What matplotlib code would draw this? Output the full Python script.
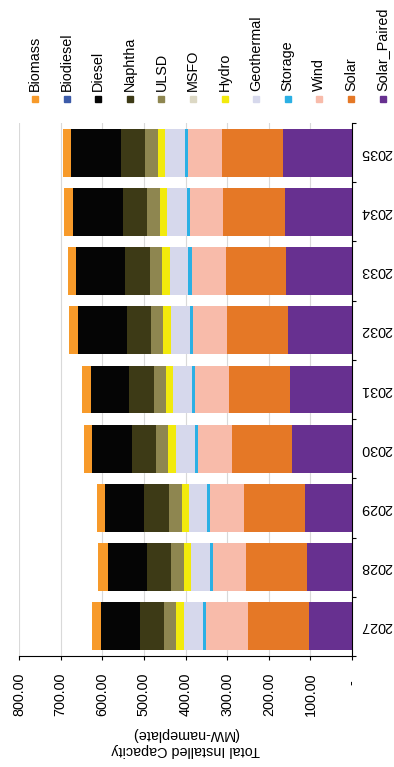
import numpy as np
import matplotlib
matplotlib.use("Agg")
import matplotlib.pyplot as plt
from matplotlib.patches import Rectangle

plt.rcParams['font.family'] = ['Liberation Sans', 'DejaVu Sans']

# data (MW-nameplate)
years = ['2027', '2028', '2029', '2030', '2031', '2032', '2033', '2034', '2035']
solar_paired = [104.3, 109.1, 112.4, 144.5, 150.1, 153.3, 158.1, 161.3, 166.1]
solar = [146.0, 144.5, 146.1, 143.7, 146.1, 147.7, 145.3, 147.7, 146.1]
wind = [101.0, 81.1, 81.9, 81.9, 81.1, 81.1, 81.9, 81.1, 82.7]
storage = [5.6, 7.2, 7.2, 6.4, 6.4, 7.2, 8.0, 6.4, 6.4]
geothermal = [46.5, 44.9, 44.1, 47.4, 45.7, 45.7, 44.9, 48.2, 47.4]
hydro = [18.5, 17.7, 17.7, 17.7, 16.9, 18.5, 17.7, 16.9, 17.7]
msfo = [0, 0, 0, 0, 0, 0, 0, 0, 0]
ulsd = [29.7, 29.7, 29.7, 28.9, 29.7, 28.9, 29.7, 29.7, 29.7]
naphtha = [57.8, 58.6, 59.4, 57.8, 58.6, 57.8, 58.6, 59.4, 57.8]
diesel = [94.7, 93.9, 93.9, 95.5, 93.1, 118.0, 118.0, 120.0, 120.0]
biodiesel = [0, 0, 0, 0, 0, 0, 0, 0, 0]
biomass = [20.9, 22.5, 20.9, 21.0, 21.0, 21.0, 21.0, 21.0, 21.0]

# stacking order (first one sits next to the axis)
series = [
    ('Solar_Paired', solar_paired, '#673090'),
    ('Solar', solar, '#E57826'),
    ('Wind', wind, '#F8BBAA'),
    ('Storage', storage, '#2BB0E4'),
    ('Geothermal', geothermal, '#D6D8EC'),
    ('Hydro', hydro, '#F2EA0C'),
    ('MSFO', msfo, '#DCD8C4'),
    ('ULSD', ulsd, '#8E8650'),
    ('Naphtha', naphtha, '#3D3A16'),
    ('Diesel', diesel, '#050505'),
    ('Biodiesel', biodiesel, '#3C5BA9'),
    ('Biomass', biomass, '#F79A2A'),
]

W, H = 394, 767
fig = plt.figure(figsize=(W / 100, H / 100), dpi=100)
ax = fig.add_axes([19 / W, 1 - 656 / H, 333 / W, 533 / H])

pos = np.arange(len(years))
left = np.zeros(len(years))
for name, vals, col in series:
    ax.barh(pos, vals, left=left, height=0.81, color=col, zorder=2)
    left = left + np.array(vals)

ax.set_xlim(800, 0)
ax.set_ylim(-0.5, len(years) - 0.5)

# value axis at the bottom
ticks = list(range(0, 900, 100))
labels = []
for t in ticks:
    if t == 0:
        labels.append('-  ')
    else:
        labels.append(f'{t:.2f}')
ax.set_xticks(ticks)
ax.set_xticklabels(labels, rotation=90, fontsize=10.4)
ax.tick_params(axis='x', direction='out', length=3, width=0.8, pad=9)
ax.grid(axis='x', color='#D9D9D9', linewidth=0.8, zorder=0)

# category axis on the right, labels upside down
ax.yaxis.tick_right()
ax.set_yticks(np.arange(-0.5, len(years), 1.0))
ax.set_yticklabels([])
ax.set_yticks(pos, minor=True)
ax.set_yticklabels(years, minor=True, rotation=180, fontsize=10.4, va='center')
ax.tick_params(axis='y', which='major', direction='out', length=3, width=0.8)
ax.tick_params(axis='y', which='minor', length=0, pad=6)

ax.spines['top'].set_visible(False)
ax.spines['left'].set_visible(False)
ax.spines['right'].set_linewidth(0.8)
ax.spines['bottom'].set_linewidth(0.8)

# axis title, upside down
fig.text(186 / W, 1 - 742 / H, 'Total Installed Capacity\n(MW-nameplate)',
         rotation=180, ha='center', va='center', multialignment='center', fontsize=10.4)

# legend along the top, labels read upwards
legend_order = ['Biomass', 'Biodiesel', 'Diesel', 'Naphtha', 'ULSD', 'MSFO', 'Hydro',
                'Geothermal', 'Storage', 'Wind', 'Solar', 'Solar_Paired']
colors = {name: col for name, vals, col in series}
for i, name in enumerate(legend_order):
    cx = 35 + 31.6 * i
    fig.add_artist(Rectangle(((cx - 3) / W, 1 - 102 / H), 6 / W, 6 / H,
                             transform=fig.transFigure, color=colors[name]))
    fig.text(cx / W, 1 - 91 / H, name, rotation=90, ha='center', va='bottom', fontsize=10.4)

fig.savefig('out.png', dpi=100)
